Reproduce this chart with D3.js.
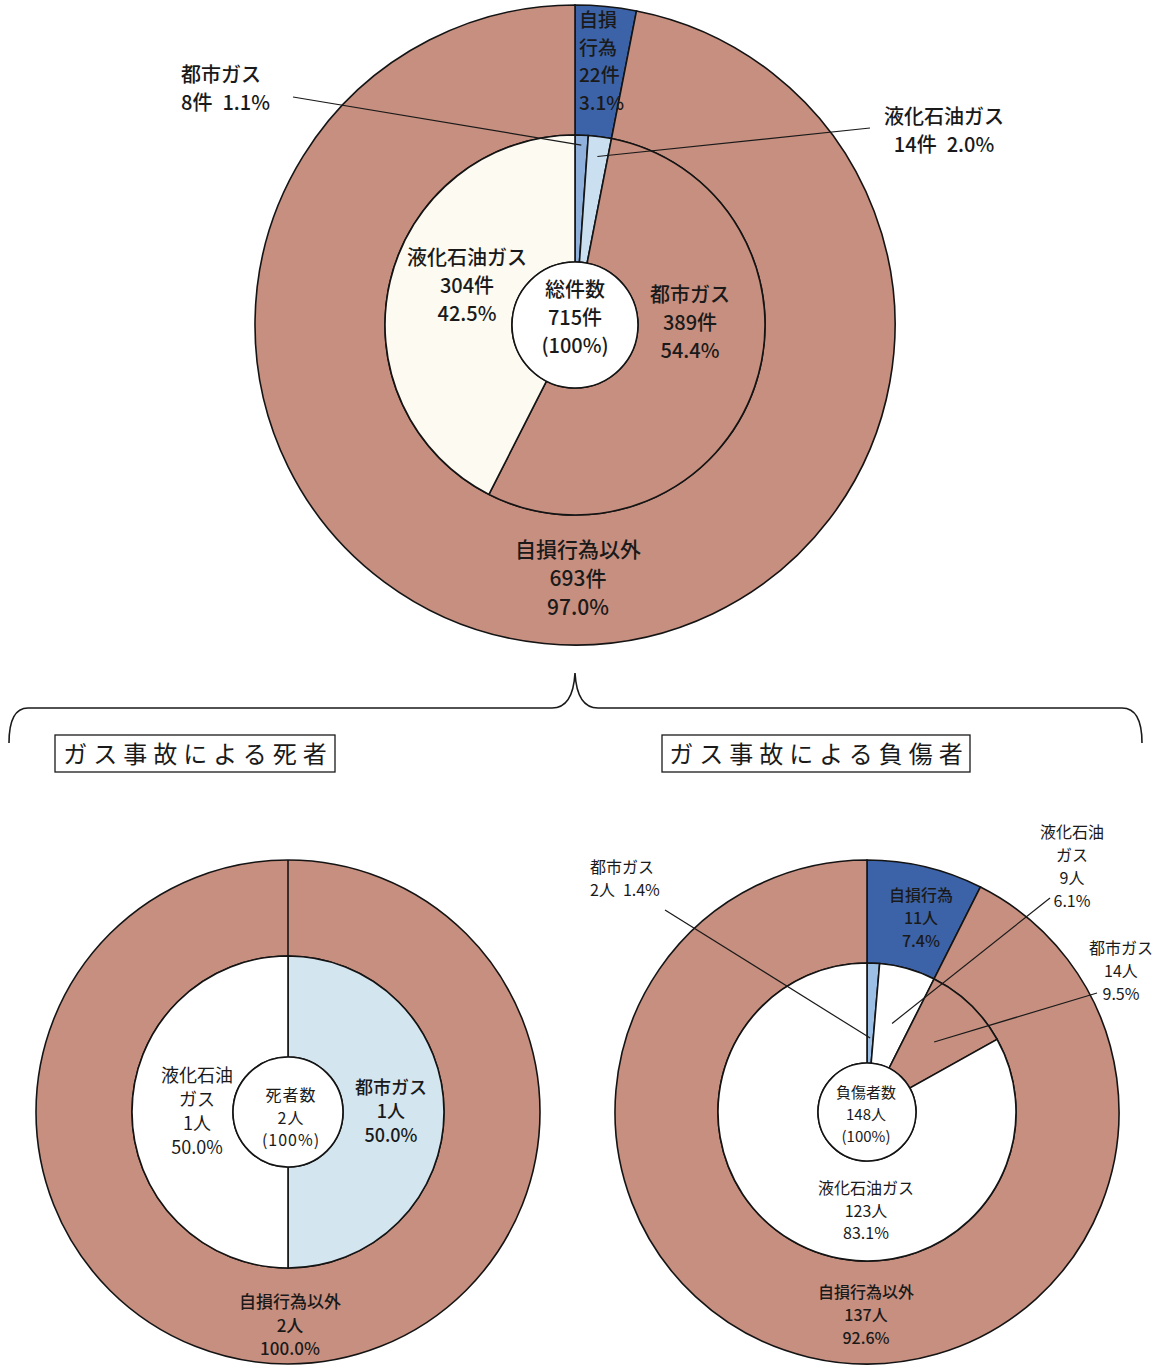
<!DOCTYPE html>
<html><head><meta charset="utf-8">
<script src="https://cdn.jsdelivr.net/npm/d3@7"></script>
<style>
body{margin:0;background:#fff}
text{font-family:"Noto Sans CJK JP","Noto Sans",sans-serif;fill:#1a1a1a}
</style>
</head><body>
<svg id="c" width="1157" height="1369"></svg>
<script>
// ---------------- data ----------------
const topOuterLabels = ["自損行為", "自損行為以外"];
const topOuterValues = [22, 693];
const topOuterPct = ["3.1%", "97.0%"];
const topInnerLabels = ["都市ガス", "液化石油ガス", "都市ガス", "液化石油ガス"];
const topInnerValues = [8, 14, 389, 304];
const topInnerPct = ["1.1%", "2.0%", "54.4%", "42.5%"];
const topTotal = 715;

const deathOuterLabels = ["自損行為以外"];
const deathOuterValues = [2];
const deathOuterPct = ["100.0%"];
const deathInnerLabels = ["都市ガス", "液化石油ガス"];
const deathInnerValues = [1, 1];
const deathInnerPct = ["50.0%", "50.0%"];
const deathTotal = 2;

const injOuterLabels = ["自損行為", "自損行為以外"];
const injOuterValues = [11, 137];
const injOuterPct = ["7.4%", "92.6%"];
const injInnerLabels = ["都市ガス", "液化石油ガス", "都市ガス", "液化石油ガス"];
const injInnerValues = [2, 9, 14, 123];
const injInnerPct = ["1.4%", "6.1%", "9.5%", "83.1%"];
const injTotal = 148;

const titles = ["ガス事故による死者", "ガス事故による負傷者"];

// ---------------- style ----------------
const BROWN = "#c78f7f", DBLUE = "#3c63a8", CREAM = "#fdfaf2";
const svg = d3.select("#c");
const pie = d3.pie().sort(null).value(d => d);
const STROKE = "#141414";

function polar(cx, cy, r, a) { return [cx + r * Math.sin(a), cy - r * Math.cos(a)]; }

function donut(cfg) {
  const g = svg.append("g").attr("transform", `translate(${cfg.cx},${cfg.cy})`);
  const outer = pie(cfg.outerValues);
  const inner = pie(cfg.innerValues);
  const arcO = d3.arc().innerRadius(cfg.rIn).outerRadius(cfg.rOut);
  const arcI = d3.arc().innerRadius(cfg.rC).outerRadius(cfg.rIn);
  g.selectAll("path.o").data(outer).join("path").attr("class", "o")
    .attr("d", arcO).attr("fill", (d, i) => cfg.outerColors[i])
    .attr("stroke", STROKE).attr("stroke-width", 1.6);
  if (outer.length === 1) {
    const a = outer[0].startAngle;
    g.append("line").attr("x1", cfg.rIn * Math.sin(a)).attr("y1", -cfg.rIn * Math.cos(a))
      .attr("x2", cfg.rOut * Math.sin(a)).attr("y2", -cfg.rOut * Math.cos(a))
      .attr("stroke", STROKE).attr("stroke-width", 1.6);
  }
  g.selectAll("path.i").data(inner).join("path").attr("class", "i")
    .attr("d", arcI).attr("fill", (d, i) => cfg.innerColors[i])
    .attr("stroke", STROKE).attr("stroke-width", 1.6);
  g.append("circle").attr("r", cfg.rC)
    .attr("fill", "#fff").attr("stroke", STROKE).attr("stroke-width", 1.6);
  return { outer, inner };
}

function label(x, y, lines, size, lh, anchor, weight, ls) {
  const t = svg.append("text").attr("x", x).attr("y", y)
    .attr("text-anchor", anchor || "middle")
    .style("font-size", size + "px").style("font-weight", weight || 500)
    .style("letter-spacing", (ls || 0) + "px");
  lines.forEach((s, i) => {
    t.append("tspan").attr("x", x).attr("dy", i === 0 ? 0 : lh).text(s);
  });
}

function leader(x1, y1, pt) {
  svg.append("line").attr("x1", x1).attr("y1", y1).attr("x2", pt[0]).attr("y2", pt[1])
    .attr("stroke", "#1a1a1a").attr("stroke-width", 1.2);
}
const mid = d => (d.startAngle + d.endAngle) / 2;

// ---------------- top chart ----------------
const T = { cx: 575, cy: 325, rOut: 320, rIn: 190, rC: 63,
  outerValues: topOuterValues, innerValues: topInnerValues,
  outerColors: [DBLUE, BROWN], innerColors: ["#8fb1dc", "#cadff0", BROWN, CREAM] };
const tp = donut(T);

label(579, 27, [topOuterLabels[0].slice(0, 2), topOuterLabels[0].slice(2), topOuterValues[0] + "件", topOuterPct[0]], 19, 27.5, "start", 500);
label(578, 557, [topOuterLabels[1], topOuterValues[1] + "件", topOuterPct[1]], 21, 29, "middle", 500);
label(467, 265, [topInnerLabels[3], topInnerValues[3] + "件", topInnerPct[3]], 20, 28, "middle", 500);
label(690, 302, [topInnerLabels[2], topInnerValues[2] + "件", topInnerPct[2]], 20, 28, "middle", 500);
label(575, 297, ["総件数", topTotal + "件", "(100%)"], 20, 28, "middle", 500);
label(181, 82, [topInnerLabels[0], topInnerValues[0] + "件\u2002" + topInnerPct[0]], 20, 28, "start", 500);
label(944, 124, [topInnerLabels[1], topInnerValues[1] + "件\u2002" + topInnerPct[1]], 20, 28, "middle", 500);
leader(293, 97, polar(T.cx, T.cy, 180, mid(tp.inner[0])));
leader(870, 128, polar(T.cx, T.cy, 170, mid(tp.inner[1])));

// ---------------- brace ----------------
svg.append("path")
  .attr("d", "M9,743 Q9,708 28,708 L552,708 Q573,708 575,673 Q577,708 598,708 L1122,708 Q1142,708 1142,743")
  .attr("fill", "none").attr("stroke", "#1a1a1a").attr("stroke-width", 1.6);

// titles
[[55, 735, 280, titles[0]], [662, 735, 308, titles[1]]].forEach(([x, y, w, s]) => {
  svg.append("rect").attr("x", x).attr("y", y).attr("width", w).attr("height", 37)
    .attr("fill", "#fff").attr("stroke", "#1a1a1a").attr("stroke-width", 1.3);
  svg.append("text").attr("x", x + w / 2 + 3).attr("y", y + 28).attr("text-anchor", "middle")
    .style("font-size", "24px").style("letter-spacing", "6px").style("font-weight", 400).text(s);
});

// ---------------- death chart ----------------
const D = { cx: 288, cy: 1112, rOut: 252, rIn: 156, rC: 55,
  outerValues: deathOuterValues, innerValues: deathInnerValues,
  outerColors: [BROWN], innerColors: ["#d3e6f0", "#ffffff"] };
donut(D);
label(197, 1082, ["液化石油", "ガス", deathInnerValues[1] + "人", deathInnerPct[1]], 18, 24, "middle", 400);
label(291, 1101, ["死者数", deathTotal + "人", "(100%)"], 16, 22.5, "middle", 400, 1);
label(391, 1094, [deathInnerLabels[0], deathInnerValues[0] + "人", deathInnerPct[0]], 18, 24, "middle", 500);
label(290, 1308, [deathOuterLabels[0], deathOuterValues[0] + "人", deathOuterPct[0]], 17, 23.5, "middle", 500);

// ---------------- injury chart ----------------
const J = { cx: 867, cy: 1112, rOut: 252, rIn: 149, rC: 49,
  outerValues: injOuterValues, innerValues: injInnerValues,
  outerColors: [DBLUE, BROWN], innerColors: ["#9cbfe6", "#ffffff", BROWN, "#ffffff"] };
const jp = donut(J);
label(921, 901, [injOuterLabels[0], injOuterValues[0] + "人", injOuterPct[0]], 16, 23, "middle", 500);
label(866, 1298, [injOuterLabels[1], injOuterValues[1] + "人", injOuterPct[1]], 16, 23, "middle", 500);
label(866, 1194, [injInnerLabels[3], injInnerValues[3] + "人", injInnerPct[3]], 16, 22.5, "middle", 400);
label(866, 1098, ["負傷者数", injTotal + "人", "(100%)"], 15, 22, "middle", 400);
label(590, 873, [injInnerLabels[0], injInnerValues[0] + "人\u2002" + injInnerPct[0]], 16, 22.5, "start", 400);
label(1072, 838, ["液化石油", "ガス", injInnerValues[1] + "人", injInnerPct[1]], 16, 23, "middle", 400);
label(1121, 954, [injInnerLabels[2], injInnerValues[2] + "人", injInnerPct[2]], 16, 23, "middle", 400);
leader(665, 910, polar(J.cx, J.cy, 74, mid(jp.inner[0])));
leader(1050, 898, polar(J.cx, J.cy, 92, mid(jp.inner[1])));
leader(1097, 993, polar(J.cx, J.cy, 97, mid(jp.inner[2])));
</script>
</body></html>
